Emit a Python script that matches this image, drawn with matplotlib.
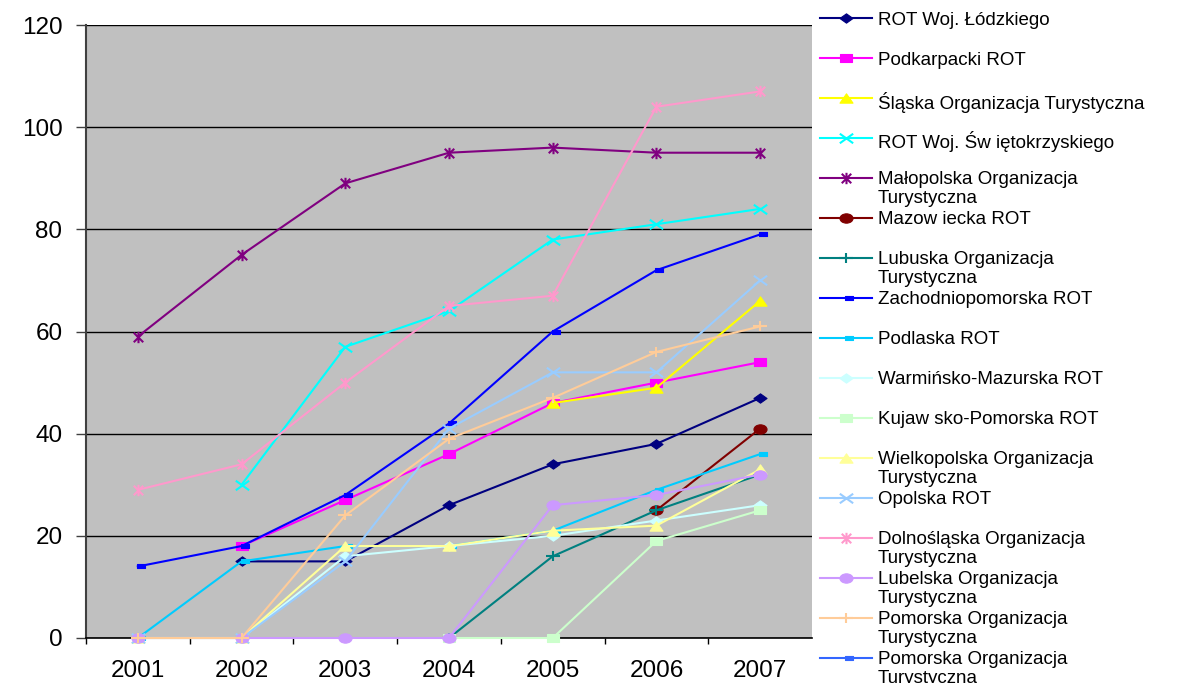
import numpy as np
import matplotlib
matplotlib.use('Agg')
import matplotlib.pyplot as plt
from matplotlib.path import Path
from matplotlib.transforms import Affine2D

plt.rcParams['font.family'] = ['Liberation Sans', 'DejaVu Sans']

nan = np.nan
years = ['2001', '2002', '2003', '2004', '2005', '2006', '2007']

# values, one list per organisation
lodzkie = [nan, 15, 15, 26, 34, 38, 47]
podkarpackie = [nan, 18, 27, 36, 46, 50, 54]
slaskie = [nan, nan, nan, nan, 46, 49, 66]
swietokrzyskie = [nan, 30, 57, 64, 78, 81, 84]
malopolskie = [59, 75, 89, 95, 96, 95, 95]
mazowieckie = [nan, nan, nan, nan, nan, 25, 41]
lubuskie = [nan, nan, nan, 0, 16, 25, 32]
zachodniopomorskie = [14, 18, 28, 42, 60, 72, 79]
podlaskie = [0, 15, 18, 18, 21, 29, 36]
warminsko_mazurskie = [0, 0, 16, 18, 20, 23, 26]
kujawsko_pomorskie = [nan, nan, nan, 0, 0, 19, 25]
wielkopolskie = [0, 0, 18, 18, 21, 22, 33]
opolskie = [0, 0, 15, 41, 52, 52, 70]
dolnoslaskie = [29, 34, 50, 65, 67, 104, 107]
lubelskie = [0, 0, 0, 0, 26, 28, 32]
pomorskie = [0, 0, 24, 39, 47, 56, 61]
pomorskie_2 = [nan, nan, nan, nan, nan, nan, nan]

labels = ['ROT Woj. Łódzkiego', 'Podkarpacki ROT', 'Śląska Organizacja Turystyczna',
          'ROT Woj. Św iętokrzyskiego', 'Małopolska Organizacja\nTurystyczna',
          'Mazow iecka ROT', 'Lubuska Organizacja\nTurystyczna', 'Zachodniopomorska ROT',
          'Podlaska ROT', 'Warmińsko-Mazurska ROT', 'Kujaw sko-Pomorska ROT',
          'Wielkopolska Organizacja\nTurystyczna', 'Opolska ROT',
          'Dolnośląska Organizacja\nTurystyczna', 'Lubelska Organizacja\nTurystyczna',
          'Pomorska Organizacja\nTurystyczna', 'Pomorska Organizacja\nTurystyczna']
series = [lodzkie, podkarpackie, slaskie, swietokrzyskie, malopolskie, mazowieckie,
          lubuskie, zachodniopomorskie, podlaskie, warminsko_mazurskie, kujawsko_pomorskie,
          wielkopolskie, opolskie, dolnoslaskie, lubelskie, pomorskie, pomorskie_2]
colors = ['#000080', '#FF00FF', '#FFFF00', '#00FFFF', '#800080', '#800000', '#008080',
          '#0000FF', '#00CCFF', '#CCFFFF', '#CCFFCC', '#FFFF99', '#99CCFF', '#FF99CC',
          '#CC99FF', '#FFCC99', '#3366FF']

# excel-like markers, a bit wider than tall
a = 1.4
M, L, C = Path.MOVETO, Path.LINETO, Path.CLOSEPOLY
diamond = Path([(-a, 0), (0, 1), (a, 0), (0, -1), (-a, 0)], [M, L, L, L, C])
square = Path([(-a, -1), (a, -1), (a, 1), (-a, 1), (-a, -1)], [M, L, L, L, C])
triangle = Path([(-a, -1), (a, -1), (0, 1), (-a, -1)], [M, L, L, C])
xmark = Path([(-a, -1), (a, 1), (-a, 1), (a, -1)], [M, L, M, L])
star = Path([(-1, -1), (1, 1), (-1, 1), (1, -1), (0, -1.2), (0, 1.2)], [M, L, M, L, M, L])
circle = Path.unit_circle().transformed(Affine2D().scale(a, 1))
plus = Path([(-a, 0), (a, 0), (0, -1), (0, 1)], [M, L, M, L])
dash = Path([(-0.1, -0.22), (1, -0.22), (1, 0.22), (-0.1, 0.22), (-0.1, -0.22)], [M, L, L, L, C])

markers = [diamond, square, triangle, xmark, star, circle, plus, dash, dash,
           diamond, square, triangle, xmark, star, circle, plus, dash]
msizes = {id(diamond): 9.4, id(square): 8.8, id(triangle): 9.4, id(xmark): 9.6,
          id(star): 8.2, id(circle): 9.4, id(plus): 9.4, id(dash): 10.5}
line_markers = (id(xmark), id(star), id(plus))


def style(i):
    m = markers[i]
    kw = dict(color=colors[i], lw=1.5, marker=m, ms=msizes[id(m)], mec=colors[i])
    if id(m) in line_markers:
        kw.update(mfc='none', mew=1.5)
    else:
        kw.update(mfc=colors[i], mew=0.8)
    return kw


fig = plt.figure(figsize=(11.81, 6.83), dpi=100)
ax = fig.add_axes([86 / 1181, 45 / 683, 726 / 1181, 613 / 683])
ax.set_facecolor('#C0C0C0')

x = np.arange(len(years))
for i, s in enumerate(series):
    ax.plot(x, s, clip_on=False, zorder=3 + i * 0.01, **style(i))

ax.set_xlim(-0.5, 6.5)
ax.set_ylim(0, 120)
ax.set_yticks(np.arange(0, 121, 20))
ax.set_xticks(x)
ax.set_xticklabels(years)
ax.set_xticks(np.arange(-0.5, 6, 1), minor=True)
ax.tick_params(axis='x', which='major', length=0, pad=16, labelsize=17.5)
ax.tick_params(axis='x', which='minor', length=4.5, width=1, color='black')
ax.tick_params(axis='y', length=7, width=1, color='#404040', pad=10, labelsize=17.5)
ax.grid(axis='y', color='black', lw=1)
ax.set_axisbelow(True)
for side in ('top', 'right'):
    ax.spines[side].set_visible(False)
ax.spines['left'].set_color('#404040')
ax.spines['left'].set_linewidth(1.5)
ax.spines['bottom'].set_color('black')
ax.spines['bottom'].set_linewidth(1.2)

# legend drawn by hand: fixed step per entry, second lines spill into the gap
lax = fig.add_axes([0, 0, 1, 1])
lax.set_xlim(0, 1181)
lax.set_ylim(683, 0)
lax.axis('off')
y0, step = 18.3, 39.96
for i, lab in enumerate(labels):
    y = y0 + step * i
    kw = style(i)
    lax.plot([820, 872], [y, y], **{k: v for k, v in kw.items() if k != 'marker'}, marker=None)
    lax.plot([846], [y], ls='none', **{k: v for k, v in kw.items() if k not in ('lw', 'color')})
    lax.text(878, y - 6.7, lab, fontsize=13.5, va='top', ha='left', color='black',
             linespacing=1.15)

fig.savefig('out.png', dpi=100, facecolor='white')
